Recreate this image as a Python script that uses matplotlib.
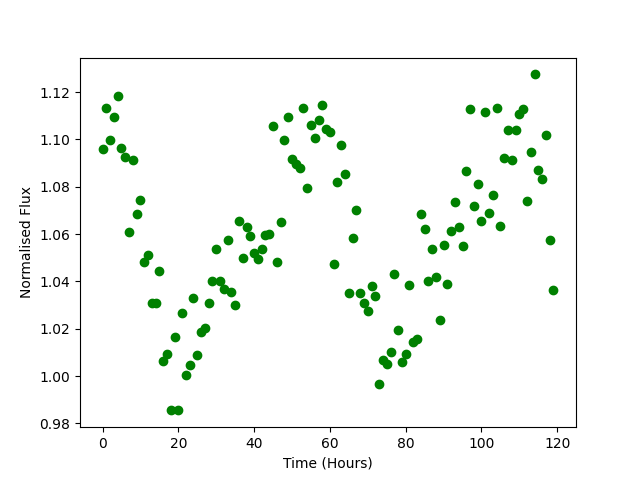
import numpy as np
import matplotlib
matplotlib.use('Agg')
import matplotlib.pyplot as plt

# one reading per hour
time = np.arange(0, 120)

flux = [1.0958, 1.1135, 1.0996, 1.1097, 1.1182, 1.0962, 1.0928, 1.0607, 1.0915, 1.0687,
        1.0746, 1.0482, 1.0513, 1.0307, 1.0309, 1.0446, 1.0065, 1.0095, 0.9855, 1.0167,
        0.9858, 1.0268, 1.0003, 1.0045, 1.0332, 1.0088, 1.0185, 1.0205, 1.0307, 1.0403,
        1.0539, 1.0403, 1.0370, 1.0577, 1.0355, 1.0299, 1.0654, 1.0497, 1.0632, 1.0594,
        1.0519, 1.0494, 1.0539, 1.0598, 1.0602, 1.1059, 1.0484, 1.0650, 1.0996, 1.1094,
        1.0917, 1.0898, 1.0881, 1.1135, 1.0793, 1.1063, 1.1005, 1.1082, 1.1145, 1.1043,
        1.1030, 1.0472, 1.0821, 1.0975, 1.0853, 1.0353, 1.0585, 1.0701, 1.0353, 1.0307,
        1.0274, 1.0379, 1.0337, 0.9968, 1.0066, 1.0052, 1.0101, 1.0433, 1.0196, 1.0058,
        1.0092, 1.0384, 1.0144, 1.0158, 1.0683, 1.0623, 1.0403, 1.0539, 1.0420, 1.0239,
        1.0552, 1.0391, 1.0615, 1.0735, 1.0632, 1.0549, 1.0865, 1.1128, 1.0717, 1.0810,
        1.0657, 1.1118, 1.0691, 1.0767, 1.1131, 1.0636, 1.0920, 1.1038, 1.0915, 1.1038,
        1.1108, 1.1127, 1.0742, 1.0949, 1.1275, 1.0873, 1.0831, 1.1021, 1.0577, 1.0365]

fig = plt.figure(figsize=(6.4, 4.8), dpi=100)
ax = fig.add_subplot(1, 1, 1)
ax.plot(time, flux, 'o', color='green')
ax.set_xlabel('Time (Hours)')
ax.set_ylabel('Normalised Flux')

fig.savefig('out.png')
